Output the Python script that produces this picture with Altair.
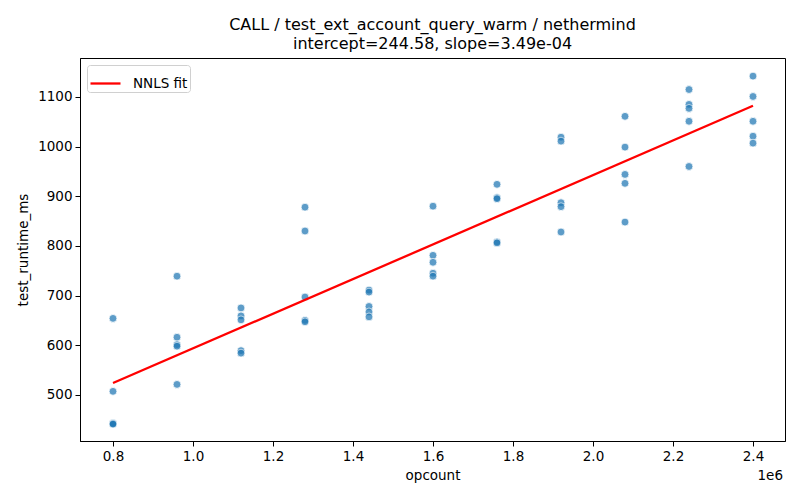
import altair as alt
import pandas as pd

# opcount in units of 1e6
opcount = [0.8]*5 + [0.96]*5 + [1.12]*5 + [1.28]*5 + [1.44]*5 + [1.6]*5 + \
          [1.76]*5 + [1.92]*5 + [2.08]*5 + [2.24]*5 + [2.4]*5
runtime = [654, 507, 443, 442, 441,
           739, 616, 601, 598, 521,
           675, 659, 651, 589, 584,
           878, 830, 697, 650, 647,
           711, 707, 678, 667, 657,
           880, 781, 767, 745, 739,
           924, 897, 895, 808, 806,
           1019, 1011, 887, 879, 828,
           1061, 999, 944, 926, 848,
           1115, 1085, 1077, 1051, 960,
           1142, 1101, 1051, 1021, 1007]

intercept = 244.58
slope = 3.49e-04
fit_x = [0.8, 2.4]
fit_label = ["NNLS fit", "NNLS fit"]

pts = pd.DataFrame({"opcount": opcount, "test_runtime_ms": runtime})
fit = pd.DataFrame({"opcount": fit_x,
                    "test_runtime_ms": [intercept + slope * x * 1e6 for x in fit_x],
                    "series": fit_label})

W, H = 705, 383
font = "DejaVu Sans"

xscale = alt.Scale(domain=[0.7175, 2.48], nice=False, zero=False)
yscale = alt.Scale(domain=[407, 1178.5], nice=False, zero=False)

xaxis = alt.Axis(values=[0.8, 1.0, 1.2, 1.4, 1.6, 1.8, 2.0, 2.2, 2.4], format=".1f",
                 title="opcount", grid=False, tickSize=5, labelPadding=3,
                 titlePadding=6, labelFontSize=13.5, titleFontSize=13.5,
                 domainColor="black", tickColor="black", labelColor="black",
                 titleColor="black", labelFont=font, titleFont=font, titleFontWeight="normal")
yaxis = alt.Axis(values=[500, 600, 700, 800, 900, 1000, 1100], format="d",
                 title="test_runtime_ms",
                 grid=False, tickSize=5, labelPadding=3, titlePadding=7,
                 labelFontSize=13.5, titleFontSize=13.5,
                 domainColor="black", tickColor="black", labelColor="black",
                 titleColor="black", labelFont=font, titleFont=font, titleFontWeight="normal")

scatter = alt.Chart(pts).mark_point(
    filled=True, color="#1f77b4", opacity=0.72, size=62,
    stroke="white", strokeWidth=0.8, strokeOpacity=1
).encode(
    x=alt.X("opcount:Q", scale=xscale, axis=xaxis),
    y=alt.Y("test_runtime_ms:Q", scale=yscale, axis=yaxis),
)

line = alt.Chart(fit).mark_line(strokeWidth=2.3).encode(
    x=alt.X("opcount:Q", scale=xscale),
    y=alt.Y("test_runtime_ms:Q", scale=yscale),
    color=alt.Color("series:N",
                    scale=alt.Scale(domain=["NNLS fit"], range=["red"]),
                    legend=alt.Legend(title=None, orient="top-left", offset=7,
                                      symbolType="stroke", symbolStrokeWidth=2.3,
                                      symbolSize=900, labelOffset=11, labelFontSize=13.5,
                                      labelFont=font, labelColor="black",
                                      strokeColor="#d0d0d0", fillColor="white",
                                      padding=2, cornerRadius=3)),
)

offset_text = alt.Chart(pd.DataFrame({"t": ["1e6"]})).mark_text(
    align="right", baseline="alphabetic", fontSize=13.5, font=font, color="black"
).encode(x=alt.value(W - 2), y=alt.value(H + 39), text="t:N")

chart = alt.layer(scatter, line, offset_text).properties(
    width=W, height=H,
    title=alt.TitleParams(
        text=["CALL / test_ext_account_query_warm / nethermind",
              "intercept=244.58, slope=3.49e-04"],
        fontSize=16, font=font, fontWeight="normal", color="black",
        anchor="middle", offset=6, lineHeight=19),
    autosize=alt.AutoSizeParams(type="none"),
    padding={"left": 72, "top": 50, "right": 7, "bottom": 50},
).configure_view(stroke="black", strokeWidth=1)

chart.save("out.html", embed_options={"renderer": "svg", "actions": False})
